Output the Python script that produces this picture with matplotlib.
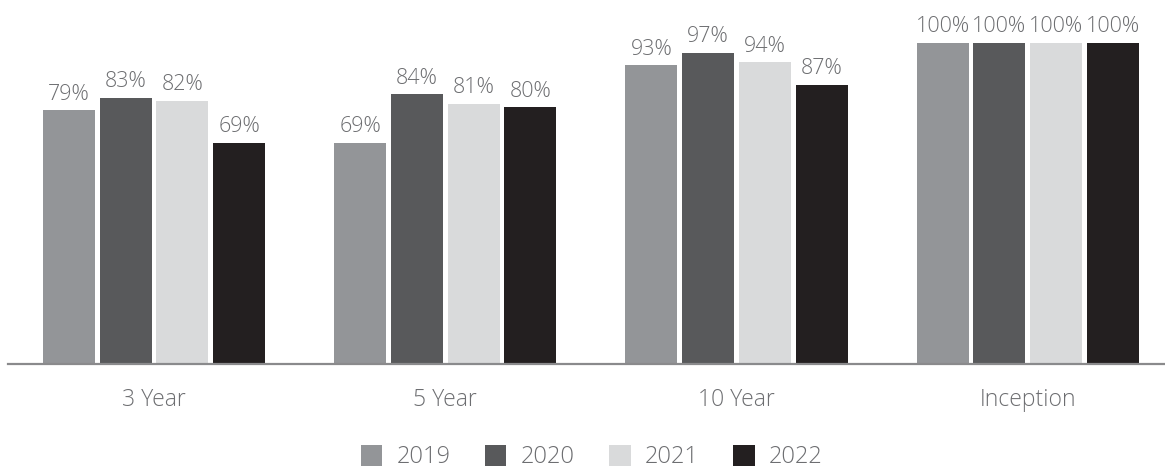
import matplotlib.pyplot as plt
import numpy as np

categories = ["3 Year", "5 Year", "10 Year", "Inception"]
years = ["2019", "2020", "2021", "2022"]
values_2019 = [79, 69, 93, 100]
values_2020 = [83, 84, 97, 100]
values_2021 = [82, 81, 94, 100]
values_2022 = [69, 80, 87, 100]

colors = ["#939598", "#58595b", "#d9dadb", "#231f20"]
text_color = "#6d6e71"

plt.rcParams['font.family'] = ['Open Sans', 'DejaVu Sans']
plt.rcParams['font.weight'] = 'light'

fig = plt.figure(figsize=(11.65, 4.69), dpi=100)
ax = fig.add_axes([8 / 1165, 1 - 364 / 469, 1 - 8 / 1165, 364 / 469])

x = np.arange(len(categories))
pitch = 0.1947
width = 0.1785
series = [values_2019, values_2020, values_2021, values_2022]

for i, (vals, year, color) in enumerate(zip(series, years, colors)):
    bars = ax.bar(x + (i - 1.5) * pitch, vals, width, color=color, label=year)
    ax.bar_label(bars, labels=[f"{v}%" for v in vals], padding=4,
                 fontsize=15.5, color=text_color, fontweight='light')

ax.set_xlim(-0.501, 3.471)
ax.set_ylim(0, 113.4)
ax.set_yticks([])
ax.set_xticks(x)
ax.set_xticklabels(categories, fontsize=16.5, color=text_color, fontweight='light')
ax.tick_params(axis='x', length=0, pad=17)

for side in ['top', 'right', 'left']:
    ax.spines[side].set_visible(False)
ax.spines['bottom'].set_color('#8a8a8c')
ax.spines['bottom'].set_linewidth(1.6)

fig.legend(loc='center', bbox_to_anchor=(0.508, 1 - 457 / 469), ncol=4, frameon=False,
           handlelength=0.9, handleheight=1.0, handletextpad=0.6,
           columnspacing=1.47, labelcolor=text_color, prop={'weight': 'light', 'size': 17})

fig.savefig("out.png", dpi=100)
